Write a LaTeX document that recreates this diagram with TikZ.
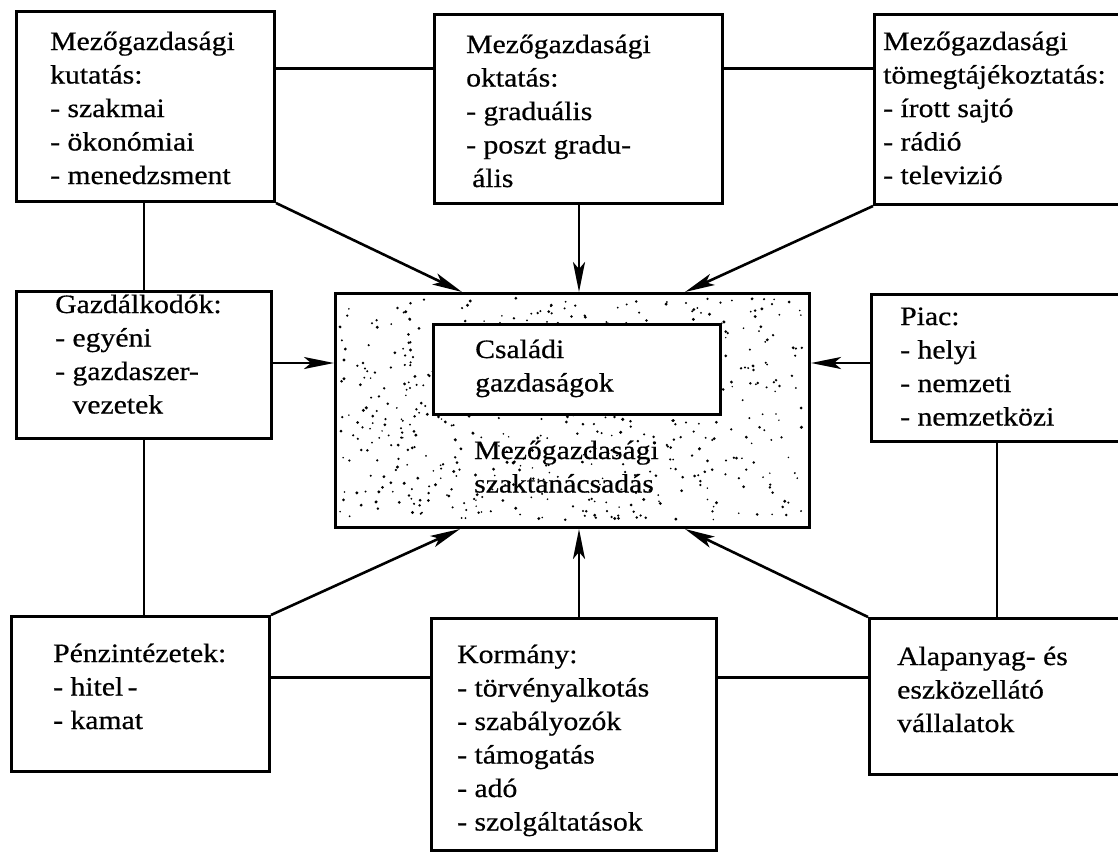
\documentclass[tikz,border=0pt]{standalone}
\usepackage{fontspec}
\setmainfont[FakeStretch=1.12,FakeBold=0.6]{Liberation Serif}
\usetikzlibrary{arrows.meta,calc}
\newcommand\boxtext[1]{\begin{tabular}[t]{@{}l@{}}#1\end{tabular}}
\begin{document}
\begin{tikzpicture}[x=1pt,y=-1pt,
  box/.style={draw, line width=3pt, rectangle, inner sep=0pt, anchor=north west},
  lbl/.style={anchor=base west, inner sep=0pt, font=\fontsize{26.5}{33.5}\selectfont},
  link/.style={line width=2.6pt},
  arr/.style={line width=2.6pt, -{Stealth[length=30pt,width=12pt,inset=7pt]}},
]
\useasboundingbox (0,0) rectangle (1118,854);
\clip (0,0) rectangle (1118,854);

% outer boxes
\node[box, minimum width=258, minimum height=190] (A) at (15,10) {};
\node[box, minimum width=288, minimum height=189] (B) at (433,13) {};
\node[box, minimum width=257, minimum height=190] (C) at (873,13) {};
\node[box, minimum width=255, minimum height=147] (D) at (15,290) {};
\node[box, minimum width=260, minimum height=147] (G) at (870,293) {};
\node[box, minimum width=258, minimum height=155] (H) at (10,615) {};
\node[box, minimum width=285, minimum height=232] (I) at (430,617) {};
\node[box, minimum width=262, minimum height=156] (J) at (868,617) {};

% central advisory box with stippled fill
\node[box, minimum width=474, minimum height=234] (E) at (334,292) {};
\pgfmathsetseed{7}
\foreach \k in {1,...,620}{
  \pgfmathsetmacro{\dx}{340+rnd*462}
  \pgfmathsetmacro{\dy}{298+rnd*222}
  \pgfmathsetmacro{\dr}{0.8+0.9*rnd}
  \fill (\dx,\dy) circle (\dr);
}
\node[box, fill=white, minimum width=287, minimum height=90] (F) at (432,323) {};

% labels
\node[lbl] (At) at (50,50) {\boxtext{Mezőgazdasági\\kutatás:\\- szakmai\\- ökonómiai\\- menedzsment}};
\node[lbl] (Bt) at (466,53) {\boxtext{Mezőgazdasági\\oktatás:\\- graduális\\- poszt gradu-\\\hspace{6pt}ális}};
\node[lbl] (Ct) at (883,50) {\boxtext{Mezőgazdasági\\tömegtájékoztatás:\\- írott sajtó\\- rádió\\- televizió}};
\node[lbl] (Dt) at (55,313) {\boxtext{Gazdálkodók:\\- egyéni\\- gazdaszer-\\\hphantom{- }vezetek}};
\node[lbl] (Gt) at (900,325) {\boxtext{Piac:\\- helyi\\- nemzeti\\- nemzetközi}};
\node[lbl] (Ht) at (53,662) {\boxtext{Pénzintézetek:\\- hitel\,-\\- kamat}};
\node[lbl] (It) at (457,663) {\boxtext{Kormány:\\- törvényalkotás\\- szabályozók\\- támogatás\\- adó\\- szolgáltatások}};
\node[lbl] (Jt) at (897,665) {\boxtext{Alapanyag- és\\eszközellátó\\vállalatok}};
\node[lbl] (Ft) at (475,358) {\boxtext{Családi\\gazdaságok}};
\node[lbl] (Et) at (474,459) {\boxtext{Mezőgazdasági\\szaktanácsadás}};

% plain links between the outer boxes
\coordinate (top) at (0,68.5);
\coordinate (bot) at (0,677.5);
\coordinate (lv) at (144,0);
\coordinate (rv) at (997,0);
\draw[link] (A.east |- top) -- (B.west |- top);
\draw[link] (B.east |- top) -- (C.west |- top);
\draw[link] (A.south -| lv) -- (D.north -| lv);
\draw[link] (D.south -| lv) -- (H.north -| lv);
\draw[link] (G.south -| rv) -- (J.north -| rv);
\draw[link] (H.east |- bot) -- (I.west |- bot);
\draw[link] (I.east |- bot) -- (J.west |- bot);

% influences on the advisory service
\coordinate (mid) at (579,0);
\coordinate (row) at (0,363);
\draw[arr] (A.south east) -- ($(E.north west)+(128,0)$);
\draw[arr] (B.south -| mid) -- (E.north -| mid);
\draw[arr] (C.south west) -- ($(E.north west)+(351,0)$);
\draw[arr] (D.east |- row) -- (E.west |- row);
\draw[arr] (G.west |- row) -- (E.east |- row);
\draw[arr] (H.north east) -- ($(E.south west)+(126,0)$);
\draw[arr] (I.north -| mid) -- (E.south -| mid);
\draw[arr] (J.north west) -- ($(E.south west)+(351,0)$);
\end{tikzpicture}
\end{document}
